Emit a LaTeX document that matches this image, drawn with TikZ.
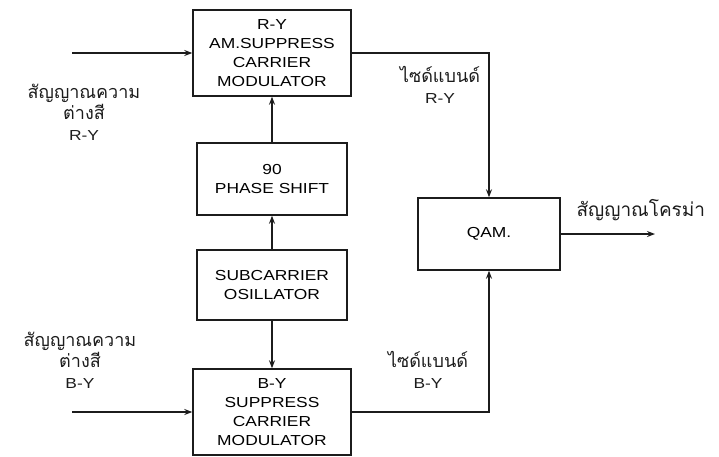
\documentclass[tikz,border=0pt]{standalone}
\usepackage{fontspec}
\setmainfont{Liberation Sans}[FakeStretch=1.2]
\newfontfamily\thaifont[Script=Thai]{Loma}
\usetikzlibrary{arrows.meta,positioning}
\definecolor{ink}{RGB}{28,28,28}
\newcommand{\lat}[1]{{\rmfamily\fontsize{14.5}{21}\selectfont #1}}
\tikzset{
  blk/.style={draw=ink,line width=1.4pt,minimum width=150pt,minimum height=72pt,inner sep=2pt,align=center,font=\fontsize{14.5}{19}\selectfont},
  modblk/.style={blk,minimum width=158pt,minimum height=86pt},
  flow/.style={-{Stealth[length=8pt,width=6pt]},ink,line width=1.4pt},
  thlabel/.style={align=center,text=ink,font=\fontsize{18}{21}\selectfont\thaifont},
}
\begin{document}
\begin{tikzpicture}[x=1pt,y=-1pt]
\useasboundingbox (0,0) rectangle (719,456);
% blocks
\node[modblk] (rymod) at (272,53) {R-Y\\AM.SUPPRESS\\CARRIER\\MODULATOR};
\node[blk] (phase) at (272,179) {90\\PHASE SHIFT};
\node[blk, minimum height=70pt] (osc) at (272,285) {SUBCARRIER\\OSILLATOR};
\node[modblk] (bymod) at (272,412) {B-Y\\SUPPRESS\\CARRIER\\MODULATOR};
\node[blk, minimum width=142pt] (qam) at (489,234) {QAM.};
% free ends
\coordinate (rin) at (72,53);
\coordinate (bin) at (72,412);
\coordinate (cout) at (655,234);
% labels
\node[thlabel] (rylbl) at (84,112) {สัญญาณความ\\ต่างสี\\\lat{R-Y}};
\node[thlabel] (bylbl) at (80,360) {สัญญาณความ\\ต่างสี\\\lat{B-Y}};
\node[thlabel] (rysb) at (440,85) {ไซด์แบนด์\\\lat{R-Y}};
\node[thlabel] (bysb) at (428,370) {ไซด์แบนด์\\\lat{B-Y}};
\node[thlabel, anchor=west, font=\fontsize{19}{22}\selectfont\thaifont] (chroma) at (573,210) {สัญญาณโครม่า};
% connections
\draw[flow] (rin) -- (rymod.west);
\draw[flow] (bin) -- (bymod.west);
\draw[flow] (osc) -- (phase);
\draw[flow] (phase) -- (rymod);
\draw[flow] (osc) -- (bymod);
\draw[flow] (rymod.east) -| (qam.north);
\draw[flow] (bymod.east) -| (qam.south);
\draw[flow] (qam.east) -- (cout);
\end{tikzpicture}
\end{document}
